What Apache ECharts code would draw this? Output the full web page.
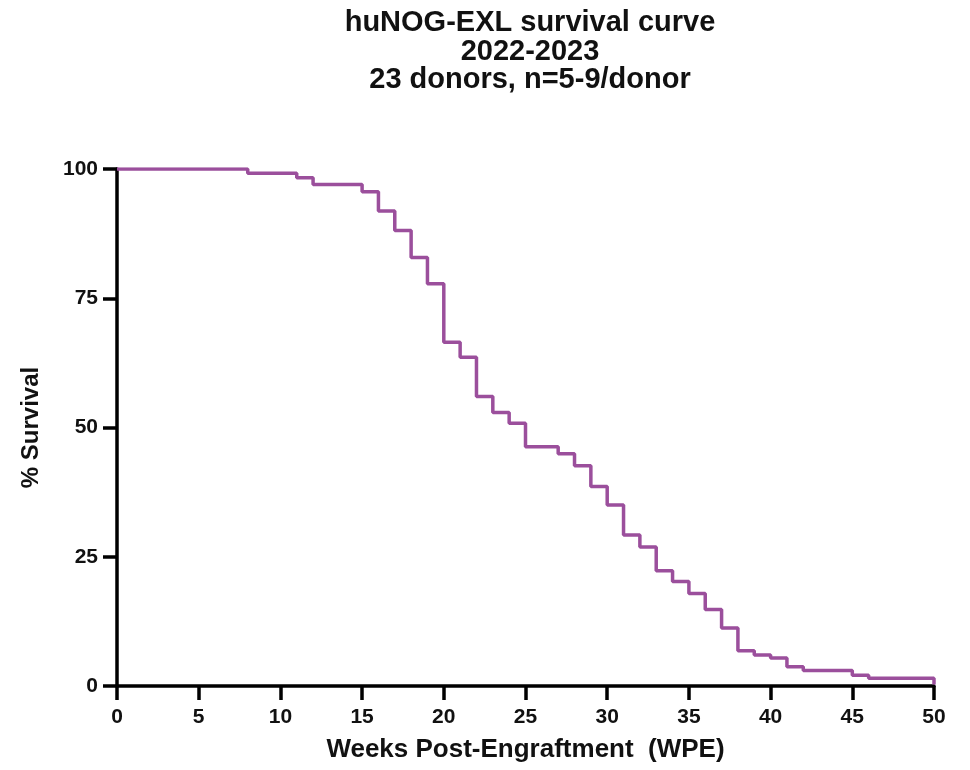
<!DOCTYPE html>
<html>
<head>
<meta charset="utf-8">
<script src="https://cdn.jsdelivr.net/npm/echarts@6/dist/echarts.min.js"></script>
<style>
  html, body { margin: 0; padding: 0; background: #fff; }
  #chart { width: 970px; height: 770px; }
</style>
</head>
<body>
<div id="chart"></div>
<script>
// Kaplan-Meier steps: week at which survival drops, and new survival %
const weeks = [0, 8, 11, 12, 15, 16, 17, 18, 19, 20, 21, 22, 23, 24, 25, 27, 28, 29, 30, 31, 32, 33, 34, 35, 36, 37, 38, 39, 40, 41, 42, 45, 46, 50];
const survival = [100, 99.2, 98.3, 97.0, 95.6, 91.9, 88.1, 82.9, 77.8, 66.5, 63.6, 56.0, 52.9, 50.8, 46.3, 44.9, 42.6, 38.6, 35.0, 29.2, 26.9, 22.3, 20.2, 17.9, 14.8, 11.2, 6.8, 6.0, 5.4, 3.7, 3.0, 2.1, 1.5, 0.3];

const titleLines = ['huNOG-EXL survival curve', '2022-2023', '23 donors, n=5-9/donor'];

const font = 'Liberation Sans, Arial, sans-serif';
const chart = echarts.init(document.getElementById('chart'));

chart.setOption({
  backgroundColor: '#fff',
  animation: false,
  title: {
    text: titleLines.join('\n'),
    left: 525,
    textAlign: 'center',
    top: 4,
    textStyle: { fontFamily: font, fontWeight: 'bold', fontSize: 29, lineHeight: 28.5, color: '#111' }
  },
  grid: { left: 117, right: 36, top: 169, bottom: 84 },
  xAxis: {
    type: 'value',
    min: 0,
    max: 50,
    interval: 5,
    name: 'Weeks Post-Engraftment  (WPE)',
    nameLocation: 'middle',
    nameGap: 51,
    nameTextStyle: { fontFamily: font, fontWeight: 'bold', fontSize: 26, color: '#111' },
    axisLine: { lineStyle: { color: '#000', width: 3.5 } },
    axisTick: { length: 14, lineStyle: { color: '#000', width: 3.5 } },
    axisLabel: { fontFamily: font, fontWeight: 'bold', fontSize: 21, color: '#111', margin: 21 },
    splitLine: { show: false }
  },
  yAxis: {
    type: 'value',
    min: 0,
    max: 100,
    interval: 25,
    name: '% Survival',
    nameLocation: 'middle',
    nameGap: 74,
    nameTextStyle: { fontFamily: font, fontWeight: 'bold', fontSize: 24, color: '#111' },
    axisLine: { show: true, lineStyle: { color: '#000', width: 3.5 } },
    axisTick: { show: true, length: 14, lineStyle: { color: '#000', width: 3.5 } },
    axisLabel: { fontFamily: font, fontWeight: 'bold', fontSize: 21, color: '#111', margin: 19 },
    splitLine: { show: false }
  },
  series: [{
    type: 'line',
    step: 'end',
    symbol: 'none',
    data: weeks.map((w, i) => [w, survival[i]]),
    lineStyle: { color: '#9b4f9c', width: 3.5 },
    z: 1
  }]
});
</script>
</body>
</html>
